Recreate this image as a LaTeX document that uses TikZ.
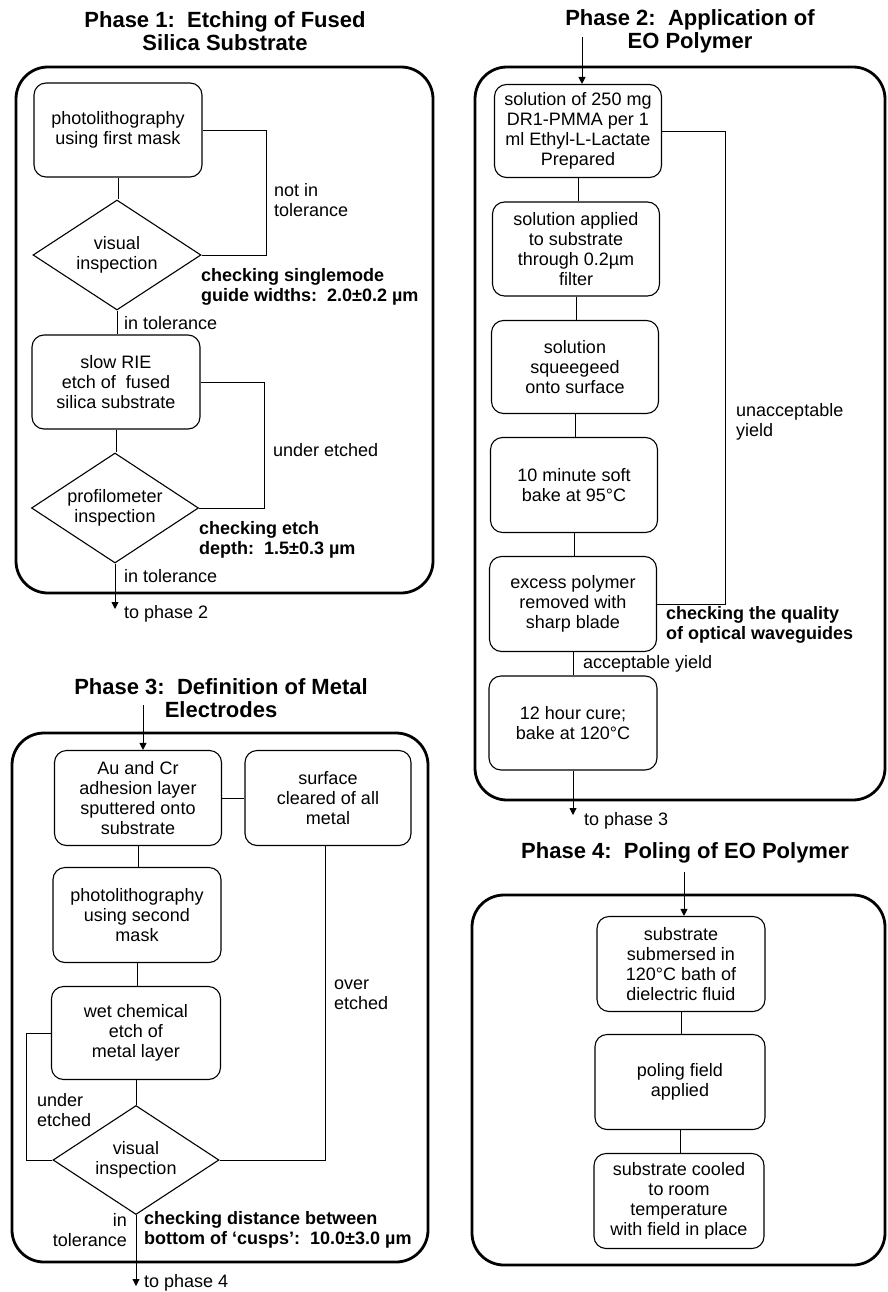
\documentclass[tikz,border=0pt]{standalone}
\usepackage{fontspec}
\setmainfont{Liberation Sans}
\usetikzlibrary{shapes.geometric,arrows.meta}
\newcommand{\twosp}{\hspace{0.556em}}
\begin{document}
\begin{tikzpicture}[x=1pt,y=-1pt,
  every node/.style={font=\fontsize{18}{20}\selectfont, inner sep=0pt},
  stepbox/.style={draw, line width=1.1pt, rounded corners=12pt, align=center, minimum width=167pt, minimum height=94pt},
  decision/.style={draw, diamond, line width=1.1pt, align=center, minimum width=168pt, minimum height=110pt, aspect=1.53},
  panel/.style={draw, line width=2.8pt, rounded corners=32pt},
  link/.style={line width=0.9pt},
  arr/.style={line width=0.9pt, -{Triangle[width=7pt,length=7pt]}},
  lbl/.style={align=left, anchor=west},
  blbl/.style={align=left, anchor=west, font=\fontsize{18}{20}\selectfont\bfseries},
  title/.style={align=center, font=\fontsize{22}{23}\selectfont\bfseries}]
\useasboundingbox (0,0) rectangle (887,1292);

% ---------- Phase 1 ----------
\node[title] (t1) at (225,31) {Phase 1:\twosp Etching of Fused\\Silica Substrate};
\draw[panel] (16,67) rectangle (433,593);
\node[stepbox, minimum width=168pt] (p1a) at (118,130) {photolithography\\using first mask};
\node[decision] (p1d1) at (117,255) {visual\\inspection};
\node[stepbox, minimum width=168pt] (p1b) at (116,382) {slow RIE\\etch of\twosp fused\\silica substrate};
\node[decision, minimum width=167pt] (p1d2) at (115,508) {profilometer\\inspection};
\coordinate (p1out) at (115,609);
\draw[link] (p1a.south) -- (p1a.south |- p1d1.north);
\draw[link] (p1d1.east) -- ++(65,0) |- (p1a.east);
\draw[link] (p1d1.south) -- (p1d1.south |- p1b.north);
\draw[link] (p1b.south) -- (p1b.south |- p1d2.north);
\draw[link] (p1d2.east) -- ++(65,0) |- (p1b.east);
\draw[arr] (p1d2.south) -- (p1out);
\node[lbl] (l1a) at (274,200) {not in\\tolerance};
\node[blbl] (l1b) at (201,287) {checking singlemode\\guide widths:\twosp 2.0±0.2 µm};
\node[lbl] (l1c) at (124,323) {in tolerance};
\node[lbl] (l1d) at (273,450) {under etched};
\node[blbl] (l1e) at (199,540) {checking etch\\depth:\twosp 1.5±0.3 µm};
\node[lbl] (l1f) at (124,576) {in tolerance};
\node[lbl] (l1g) at (124,614) {to phase 2};

% ---------- Phase 2 ----------
\node[title] (t2) at (690,31) {Phase 2:\twosp Application of\\EO Polymer};
\draw[panel] (475,67) rectangle (885,800);
\node[stepbox, minimum height=93pt] (p2a) at (578,131) {solution of 250 mg\\DR1-PMMA per 1\\ml Ethyl-L-Lactate\\Prepared};
\node[stepbox] (p2b) at (576,249) {solution applied\\to substrate\\through 0.2µm\\filter};
\node[stepbox, minimum height=93pt] (p2c) at (575,367) {solution\\squeegeed\\onto surface};
\node[stepbox, minimum height=95pt] (p2d) at (574,485) {10 minute soft\\bake at 95°C};
\node[stepbox, minimum height=95pt] (p2e) at (573,604) {excess polymer\\removed with\\sharp blade};
\node[stepbox, minimum width=168pt] (p2f) at (573,723) {12 hour cure;\\bake at 120°C};
\coordinate (p2in) at (582,37);
\coordinate (p2out) at (573,815);
\draw[arr] (p2in) -- (p2in |- p2a.north);
\draw[link] (p2a.south) -- (p2a.south |- p2b.north);
\draw[link] (p2b.south) -- (p2b.south |- p2c.north);
\draw[link] (p2c.south) -- (p2c.south |- p2d.north);
\draw[link] (p2d.south) -- (p2d.south |- p2e.north);
\draw[link] (p2e.east) -- ++(68,0) |- (p2a.east);
\draw[link] (p2e.south) -- (p2e.south |- p2f.north);
\draw[arr] (p2f.south) -- (p2out);
\node[lbl] (l2a) at (736,422) {unacceptable\\yield};
\node[blbl] (l2b) at (666,625) {checking the quality\\of optical waveguides};
\node[lbl] (l2c) at (583,664) {acceptable yield};
\node[lbl] (l2d) at (584,821) {to phase 3};

% ---------- Phase 3 ----------
\node[title] (t3) at (221,698) {Phase 3:\twosp Definition of Metal\\Electrodes};
\draw[panel] (12,733) rectangle (428,1262);
\node[stepbox, minimum height=95pt] (p3a) at (138,798) {Au and Cr\\adhesion layer\\sputtered onto\\substrate};
\node[stepbox, minimum width=166pt, minimum height=95pt] (p3k) at (328,798) {surface\\cleared of all\\metal};
\node[stepbox, minimum width=168pt, minimum height=95pt] (p3b) at (137,915) {photolithography\\using second\\mask};
\node[stepbox, minimum width=169pt, minimum height=93pt] (p3c) at (136,1033) {wet chemical\\etch of\\metal layer};
\node[decision, minimum width=166pt, minimum height=109pt] (p3d) at (136,1160) {visual\\inspection};
\coordinate (p3in) at (143,705);
\coordinate (p3out) at (136,1286);
\draw[arr] (p3in) -- (p3in |- p3a.north);
\draw[link] (p3a.east) -- (p3a.east -| p3k.west);
\draw[link] (p3a.south) -- (p3a.south |- p3b.north);
\draw[link] (p3b.south) -- (p3b.south |- p3c.north);
\draw[link] (p3c.south) -- (p3c.south |- p3d.north);
\draw[link] (p3d.west) -- ++(-26,0) |- (p3c.west);
\draw[link] (p3d.east) -| (325,0 |- p3k.south);
\draw[arr] (p3d.south) -- (p3out);
\node[lbl] (l3a) at (37,1110) {under\\etched};
\node[lbl] (l3b) at (334,995) {over\\etched};
\node[align=right, anchor=east] (l3c) at (127,1230) {in\\tolerance};
\node[blbl] (l3d) at (144,1230) {checking distance between\\bottom of `cusps':\twosp 10.0±3.0 µm};
\node[lbl] (l3e) at (144,1283) {to phase 4};

% ---------- Phase 4 ----------
\node[title] (t4) at (685,853) {Phase 4:\twosp Poling of EO Polymer};
\draw[panel] (472,895) rectangle (885,1265);
\node[stepbox, minimum width=168pt, minimum height=95pt] (p4a) at (681,964) {substrate\\submersed in\\120°C bath of\\dielectric fluid};
\node[stepbox, minimum width=170pt, minimum height=95pt] (p4b) at (680,1082) {poling field\\applied};
\node[stepbox, minimum width=170pt, minimum height=95pt] (p4c) at (679,1201) {substrate cooled\\to room\\temperature\\with field in place};
\coordinate (p4in) at (684,872);
\draw[arr] (p4in) -- (p4in |- p4a.north);
\draw[link] (p4a.south) -- (p4a.south |- p4b.north);
\draw[link] (p4b.south) -- (p4b.south |- p4c.north);
\end{tikzpicture}
\end{document}
